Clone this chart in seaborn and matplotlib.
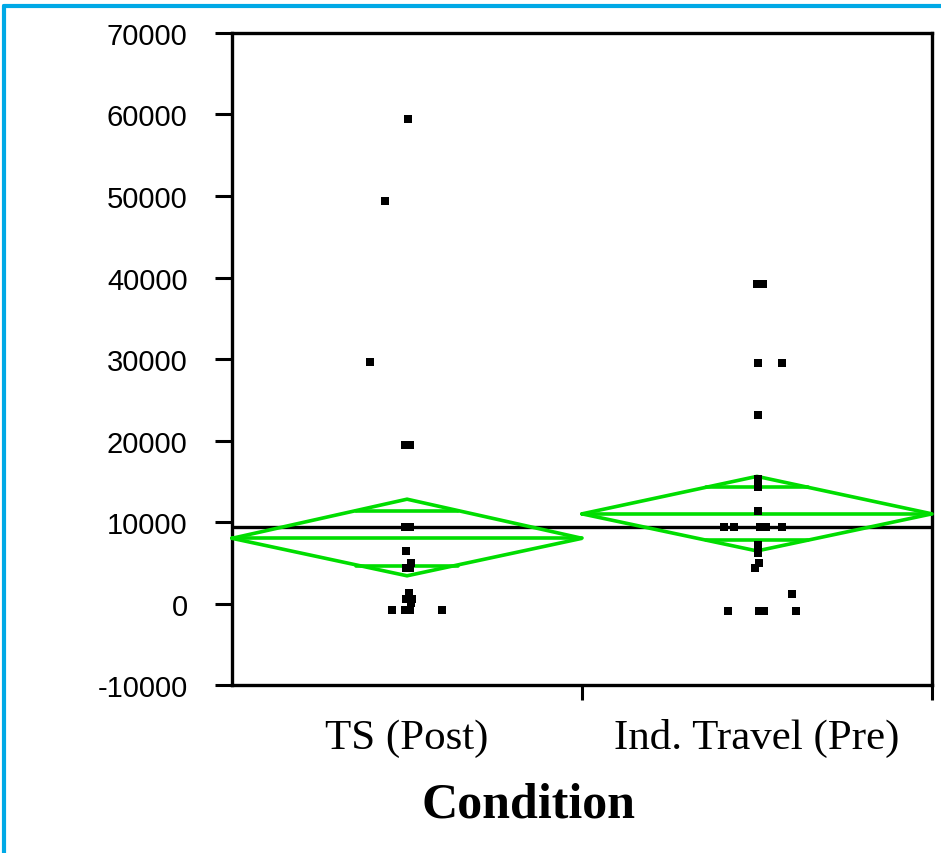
import matplotlib
matplotlib.use("Agg")
import matplotlib.pyplot as plt
from matplotlib.lines import Line2D
import numpy as np
import pandas as pd
import seaborn as sns

# ---------------- data ----------------
categories = ["TS (Post)", "Ind. Travel (Pre)"]

ts_values = [59500, 49400, 29600, 19400, 19400, 9400, 9400, 6400, 5000, 4400, 4400,
             1300, 500, 500, 100, -800, -800, -800, -800]
ts_jitter = [0.003, -0.063, -0.106, -0.006, 0.009, -0.006, 0.009, -0.003, 0.011, -0.003,
             0.009, 0.006, -0.003, 0.014, 0.011, -0.043, -0.006, 0.009, 0.100]

it_values = [39200, 39200, 29500, 29500, 23150, 15300, 14300, 11400, 9400, 9400, 9400,
             9400, 9400, 7200, 6200, 5000, 4300, 1200, -880, -880, -880, -880]
it_jitter = [0.000, 0.017, 0.003, 0.071, 0.003, 0.003, 0.003, 0.003, -0.094, -0.066,
             0.009, 0.026, 0.071, 0.003, 0.003, 0.006, -0.006, 0.100, -0.083, 0.006,
             0.020, 0.111]

diamond_mean = [8000, 11000]
diamond_low = [3400, 6450]
diamond_high = [12800, 15600]
grand_mean = 9400

y_ticks = [-10000, 0, 10000, 20000, 30000, 40000, 50000, 60000, 70000]
x_label = "Condition"

# ---------------- style ----------------
sns.set_style("ticks")
plt.rcParams["axes.unicode_minus"] = False
plt.rcParams["font.family"] = ["Liberation Sans", "DejaVu Sans"]
for k in ("text.color", "axes.labelcolor", "xtick.color", "ytick.color", "axes.edgecolor"):
    plt.rcParams[k] = "black"

GREEN = "#00DD00"

fig = plt.figure(figsize=(9.41, 8.54), dpi=100)
ax = fig.add_axes([0.2466, 0.1967, 0.7438, 0.7635])

# points
df = pd.DataFrame({
    "cond": [categories[0]] * len(ts_values) + [categories[1]] * len(it_values),
    "value": ts_values + it_values,
    "xpos": [0 + j for j in ts_jitter] + [1 + j for j in it_jitter],
})

# grand mean line
ax.axhline(grand_mean, color="black", lw=2.4, zorder=2)

# means diamonds
hw = 0.5
for i in range(len(categories)):
    m, lo, hi = diamond_mean[i], diamond_low[i], diamond_high[i]
    ax.plot([i - hw, i, i + hw, i, i - hw], [m, hi, m, lo, m],
            color=GREEN, lw=2.6, zorder=3, clip_on=False, solid_joinstyle="miter")
    ax.plot([i - hw, i + hw], [m, m], color=GREEN, lw=2.6, zorder=3, clip_on=False)
    half = (hi - m) / np.sqrt(2)
    ow = hw * (1 - 1 / np.sqrt(2))
    for yy in (m + half, m - half):
        ax.plot([i - ow, i + ow], [yy, yy], color=GREEN, lw=2.6, zorder=3)

sns.scatterplot(data=df, x="xpos", y="value", marker="s", color="black",
                s=30, linewidth=0, ax=ax, zorder=5, legend=False)

ax.set_xlim(-0.5, 1.5)
ax.set_ylim(-10000, 70000)

# y axis
ax.set_yticks(y_ticks)
ax.set_yticklabels([str(v) for v in y_ticks], fontsize=21, color="black")
ax.tick_params(axis="y", length=12, width=2.2, pad=20, direction="out", colors="black")

# x axis: separator ticks at group boundaries, labels at group centres
ax.set_xticks([0.5, 1.5])
ax.set_xticklabels(["", ""])
ax.set_xticks([0, 1], minor=True)
ax.set_xticklabels(categories, minor=True, fontsize=31, color="black",
                   fontfamily=["Liberation Serif", "DejaVu Serif"])
ax.tick_params(axis="x", which="major", length=11, width=2.2, direction="out", colors="black")
ax.tick_params(axis="x", which="minor", length=0, pad=24)

ax.set_xlabel(x_label, fontsize=36, fontweight="bold", color="black",
              fontfamily=["Liberation Serif", "DejaVu Serif"])
ax.xaxis.set_label_coords((528 - 232) / 700, (686 - 782) / 652)
ax.set_ylabel("")

for sp in ax.spines.values():
    sp.set_visible(True)
    sp.set_linewidth(2.4)
    sp.set_color("black")

# blue frame
BLUE = "#00A9E6"
fig.add_artist(Line2D([0.0045, 0.0045], [0, 0.992], transform=fig.transFigure,
                      color=BLUE, lw=3))
fig.add_artist(Line2D([0.0045, 1.0], [0.992, 0.992], transform=fig.transFigure,
                      color=BLUE, lw=3))

fig.savefig("out.png", dpi=100)
